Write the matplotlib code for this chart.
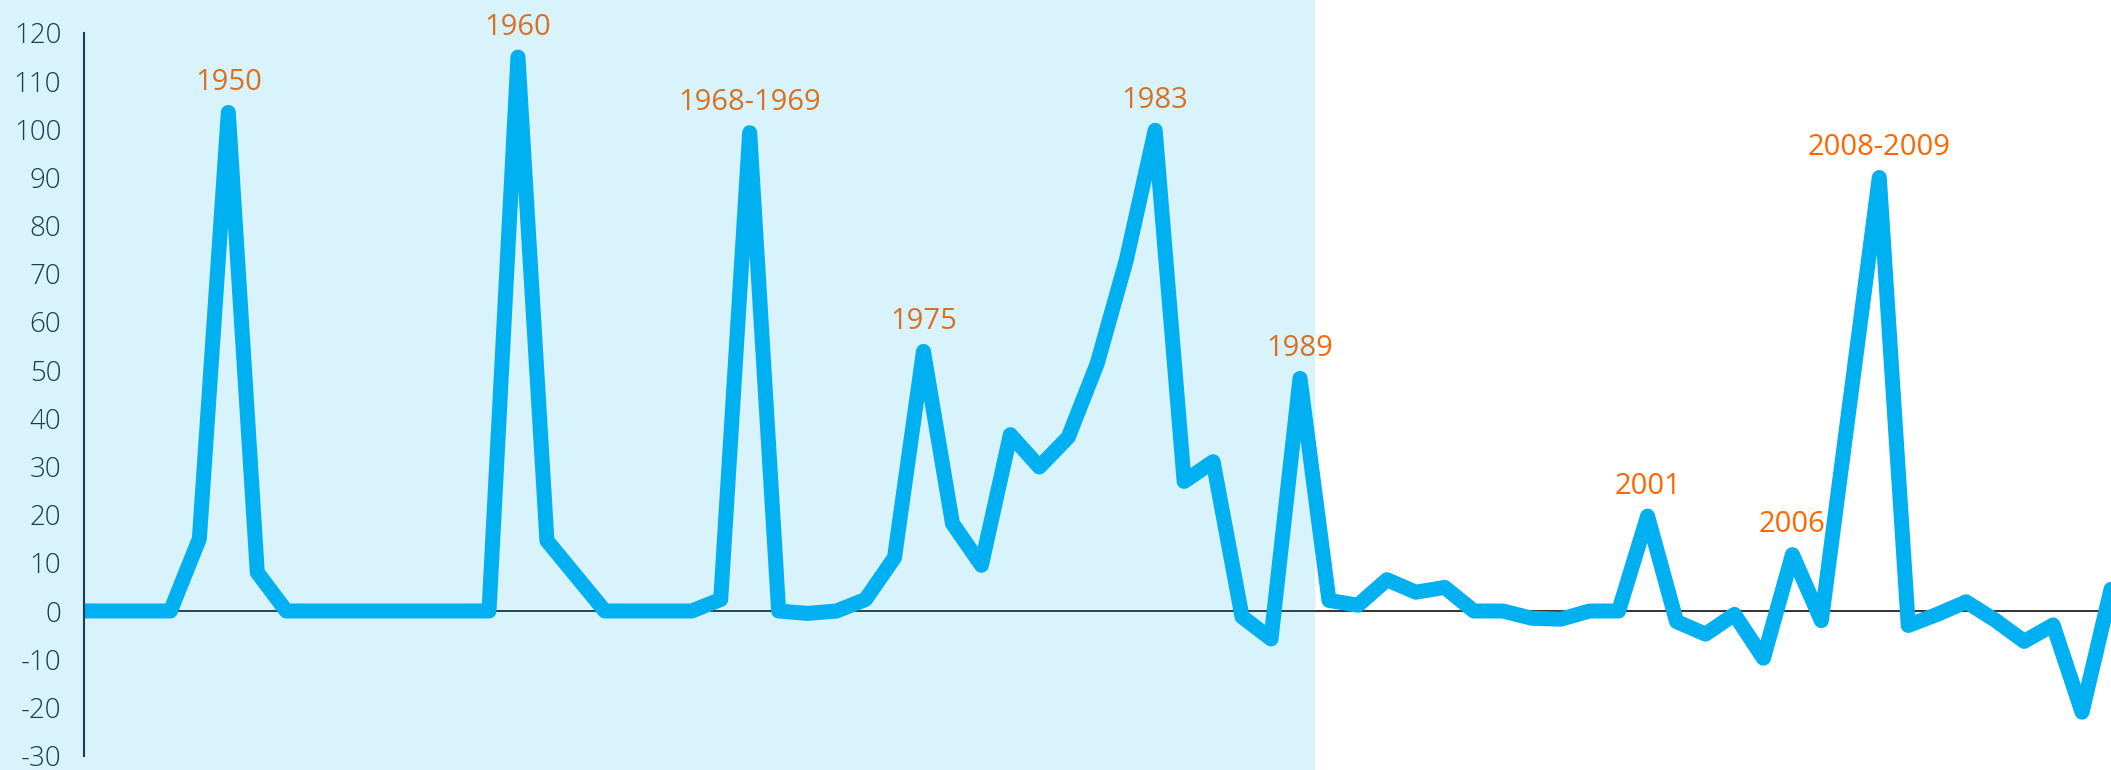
import matplotlib
matplotlib.use("Agg")
import matplotlib.pyplot as plt
from matplotlib.patches import Rectangle
import numpy as np

# values, one point per step
values = [0, 0, 0, 0, 15, 103.5, 8, 0, 0, 0, 0, 0, 0, 0, 0, 115, 14.6, 7.3,
          0, 0, 0, 0, 2.4, 99.3, 0, -0.5, 0, 2.4, 11.1, 53.9, 18.2, 9.5,
          36.6, 29.9, 36.1, 51.4, 72.8, 99.8, 26.9, 31.0, -1.2, -5.8, 48.3,
          2.2, 1.2, 6.5, 3.9, 4.9, 0, 0, -1.5, -1.7, 0, 0, 19.7, -2.2, -4.8,
          -0.7, -9.8, 11.7, -2.0, 44, 90, -3, -0.7, 1.9, -1.9, -6.3, -2.9,
          -21, 4.5]
peak_idx = [5, 15, 23, 29, 37, 42, 54, 59, 62]
peak_txt = ["1950", "1960", "1968-1969", "1975", "1983", "1989",
            "2001", "2006", "2008-2009"]
yticks = list(range(-30, 121, 10))

blue = "#00B0F0"
orange = "#FF6600"
dark = "#1f2a33"

plt.rcParams['font.family'] = ['Open Sans', 'DejaVu Sans']

W, H = 2111, 770
fig = plt.figure(figsize=(W / 100, H / 100), dpi=100)
ax = fig.add_axes([83.5 / W, (H - 755.5) / H, 1 - 83.5 / W, (755.5 - 33) / H])

x = np.arange(len(values))
ax.axhline(0, color="#222222", lw=1.3, zorder=1)
ax.plot(x, values, color=blue, lw=10.8, solid_joinstyle="round",
        solid_capstyle="round", zorder=2)

for i, t in zip(peak_idx, peak_txt):
    ax.annotate(t, (x[i], values[i]), xytext=(0, 30), textcoords="offset pixels",
                ha="center", va="center", color=orange, fontsize=21,
                annotation_clip=False)

ax.set_xlim(0, len(values) - 1)
ax.set_ylim(-30, 120)
ax.set_xticks([])
ax.set_yticks(yticks)
ax.set_yticklabels([str(v) for v in yticks], fontweight="light")
ax.tick_params(axis="y", length=0, pad=16, labelsize=20, labelcolor=dark)
for s in ["top", "right", "bottom"]:
    ax.spines[s].set_visible(False)
ax.spines["left"].set_color(dark)
ax.spines["left"].set_linewidth(1.5)
ax.patch.set_alpha(0)

# translucent band laid over the earlier years
fig.patches.append(Rectangle((0, 0), 1315 / W, 1, transform=fig.transFigure,
                             facecolor=blue, alpha=0.15, edgecolor="none",
                             zorder=10))

fig.savefig("out.png", dpi=100)
